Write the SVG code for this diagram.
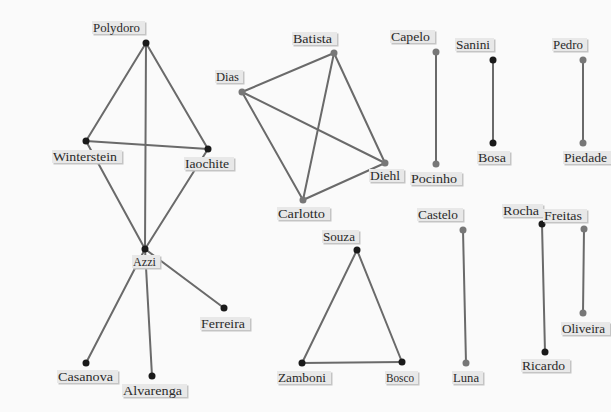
<svg xmlns="http://www.w3.org/2000/svg" width="611" height="412" viewBox="0 0 611 412">
  <style>
    .edge { stroke: #6a6a6a; stroke-width: 2; stroke-linecap: round; }
    .dk { fill: #1a1a1a; }
    .lt { fill: #777; }
    .sh { fill: #c4c4c4; }
    .bg { fill: #e8e8e8; }
    text { font-family: 'Liberation Serif', 'DejaVu Serif', 'Times New Roman', serif; font-size: 13px; fill: #2a2a2a; }
  </style>
  <rect width="611" height="412" fill="#fafafa"/>

  <g id="connectors">
    <!-- Polydoro cluster -->
    <line class="edge" x1="146" y1="43" x2="86" y2="141"/>
    <line class="edge" x1="146" y1="43" x2="208" y2="149"/>
    <line class="edge" x1="146" y1="43" x2="145" y2="249"/>
    <line class="edge" x1="86" y1="141" x2="208" y2="149"/>
    <line class="edge" x1="86" y1="141" x2="145" y2="249"/>
    <line class="edge" x1="208" y1="149" x2="145" y2="249"/>
    <line class="edge" x1="145" y1="249" x2="224" y2="308"/>
    <line class="edge" x1="145" y1="249" x2="86" y2="363"/>
    <line class="edge" x1="145" y1="249" x2="152" y2="376"/>
    <!-- Batista cluster -->
    <line class="edge" x1="334" y1="53" x2="242" y2="92"/>
    <line class="edge" x1="334" y1="53" x2="385" y2="163"/>
    <line class="edge" x1="334" y1="53" x2="303" y2="200"/>
    <line class="edge" x1="242" y1="92" x2="385" y2="163"/>
    <line class="edge" x1="242" y1="92" x2="303" y2="200"/>
    <line class="edge" x1="303" y1="200" x2="385" y2="163"/>
    <!-- Souza triangle -->
    <line class="edge" x1="357" y1="250" x2="302" y2="363"/>
    <line class="edge" x1="357" y1="250" x2="402" y2="362"/>
    <line class="edge" x1="302" y1="363" x2="402" y2="362"/>
    <!-- pairs -->
    <line class="edge" x1="436" y1="52" x2="436" y2="164"/>
    <line class="edge" x1="493" y1="60" x2="493" y2="143"/>
    <line class="edge" x1="583" y1="60" x2="583" y2="143"/>
    <line class="edge" x1="463" y1="230" x2="466" y2="363"/>
    <line class="edge" x1="542" y1="224" x2="545" y2="352"/>
    <line class="edge" x1="584" y1="229" x2="583" y2="313"/>
  </g>

  <g id="n-polydoro"><circle class="dk" cx="146" cy="43" r="3.5"/><rect class="sh" x="93.5" y="22.5" width="53" height="13"/><rect class="bg" x="92" y="21" width="53" height="13"/><text x="93" y="32" textLength="47" lengthAdjust="spacingAndGlyphs">Polydoro</text></g>
  <g id="n-winterstein"><circle class="dk" cx="86" cy="141" r="3.5"/><rect class="sh" x="53.5" y="151.5" width="70" height="13"/><rect class="bg" x="52" y="150" width="70" height="13"/><text x="53" y="161" textLength="64" lengthAdjust="spacingAndGlyphs">Winterstein</text></g>
  <g id="n-iaochite"><circle class="dk" cx="208" cy="149" r="3.5"/><rect class="sh" x="185.5" y="158.5" width="50" height="13"/><rect class="bg" x="184" y="157" width="50" height="13"/><text x="185" y="168" textLength="44" lengthAdjust="spacingAndGlyphs">Iaochite</text></g>
  <g id="n-azzi"><circle class="dk" cx="145" cy="249" r="3.5"/><rect class="sh" x="133.5" y="256.5" width="28" height="13"/><rect class="bg" x="132" y="255" width="28" height="13"/><text x="133" y="266" textLength="23" lengthAdjust="spacingAndGlyphs">Azzi</text></g>
  <g id="n-ferreira"><circle class="dk" cx="224" cy="308" r="3.5"/><rect class="sh" x="201.5" y="318.5" width="50" height="13"/><rect class="bg" x="200" y="317" width="50" height="13"/><text x="201" y="328" textLength="44" lengthAdjust="spacingAndGlyphs">Ferreira</text></g>
  <g id="n-casanova"><circle class="dk" cx="86" cy="363" r="3.5"/><rect class="sh" x="58.5" y="371.5" width="61" height="13"/><rect class="bg" x="57" y="370" width="61" height="13"/><text x="58" y="381" textLength="55" lengthAdjust="spacingAndGlyphs">Casanova</text></g>
  <g id="n-alvarenga"><circle class="dk" cx="152" cy="376" r="3.5"/><rect class="sh" x="123.5" y="385.5" width="65" height="13"/><rect class="bg" x="122" y="384" width="65" height="13"/><text x="123" y="395" textLength="59" lengthAdjust="spacingAndGlyphs">Alvarenga</text></g>

  <g id="n-batista"><circle class="lt" cx="334" cy="53" r="3.5"/><rect class="sh" x="293.5" y="33.5" width="45" height="13"/><rect class="bg" x="292" y="32" width="45" height="13"/><text x="293" y="43" textLength="39" lengthAdjust="spacingAndGlyphs">Batista</text></g>
  <g id="n-dias"><circle class="lt" cx="242" cy="92" r="3.5"/><rect class="sh" x="216.5" y="71.5" width="28" height="13"/><rect class="bg" x="215" y="70" width="28" height="13"/><text x="216" y="81" textLength="23" lengthAdjust="spacingAndGlyphs">Dias</text></g>
  <g id="n-diehl"><circle class="lt" cx="385" cy="163" r="3.5"/><rect class="sh" x="370.5" y="170.5" width="35" height="13"/><rect class="bg" x="369" y="169" width="35" height="13"/><text x="370" y="180" textLength="30" lengthAdjust="spacingAndGlyphs">Diehl</text></g>
  <g id="n-carlotto"><circle class="lt" cx="303" cy="200" r="3.5"/><rect class="sh" x="278.5" y="208.5" width="53" height="13"/><rect class="bg" x="277" y="207" width="53" height="13"/><text x="278" y="218" textLength="47" lengthAdjust="spacingAndGlyphs">Carlotto</text></g>

  <g id="n-capelo"><circle class="lt" cx="436" cy="52" r="3.5"/><rect class="sh" x="391.5" y="31.5" width="45" height="13"/><rect class="bg" x="390" y="30" width="45" height="13"/><text x="391" y="41" textLength="39" lengthAdjust="spacingAndGlyphs">Capelo</text></g>
  <g id="n-pocinho"><circle class="lt" cx="436" cy="164" r="3.5"/><rect class="sh" x="411.5" y="173.5" width="52" height="13"/><rect class="bg" x="410" y="172" width="52" height="13"/><text x="411" y="183" textLength="46" lengthAdjust="spacingAndGlyphs">Pocinho</text></g>
  <g id="n-sanini"><circle class="dk" cx="493" cy="60" r="3.5"/><rect class="sh" x="456.5" y="39.5" width="39" height="13"/><rect class="bg" x="455" y="38" width="39" height="13"/><text x="456" y="49" textLength="34" lengthAdjust="spacingAndGlyphs">Sanini</text></g>
  <g id="n-bosa"><circle class="dk" cx="493" cy="143" r="3.5"/><rect class="sh" x="478.5" y="152.5" width="33" height="13"/><rect class="bg" x="477" y="151" width="33" height="13"/><text x="478" y="162" textLength="28" lengthAdjust="spacingAndGlyphs">Bosa</text></g>
  <g id="n-pedro"><circle class="lt" cx="583" cy="60" r="3.5"/><rect class="sh" x="553.5" y="39.5" width="35" height="13"/><rect class="bg" x="552" y="38" width="35" height="13"/><text x="553" y="49" textLength="30" lengthAdjust="spacingAndGlyphs">Pedro</text></g>
  <g id="n-piedade"><circle class="lt" cx="583" cy="143" r="3.5"/><rect class="sh" x="564.5" y="152.5" width="48" height="13"/><rect class="bg" x="563" y="151" width="48" height="13"/><text x="564" y="162" textLength="43" lengthAdjust="spacingAndGlyphs">Piedade</text></g>

  <g id="n-castelo"><circle class="lt" cx="463" cy="230" r="3.5"/><rect class="sh" x="418.5" y="209.5" width="46" height="13"/><rect class="bg" x="417" y="208" width="46" height="13"/><text x="418" y="219" textLength="40" lengthAdjust="spacingAndGlyphs">Castelo</text></g>
  <g id="n-luna"><circle class="lt" cx="466" cy="363" r="3.5"/><rect class="sh" x="453.5" y="372.5" width="31" height="13"/><rect class="bg" x="452" y="371" width="31" height="13"/><text x="453" y="382" textLength="26" lengthAdjust="spacingAndGlyphs">Luna</text></g>

  <g id="n-souza"><circle class="dk" cx="357" cy="250" r="3.5"/><rect class="sh" x="323.5" y="231.5" width="37" height="13"/><rect class="bg" x="322" y="230" width="37" height="13"/><text x="323" y="241" textLength="32" lengthAdjust="spacingAndGlyphs">Souza</text></g>
  <g id="n-zamboni"><circle class="dk" cx="302" cy="363" r="3.5"/><rect class="sh" x="278.5" y="372.5" width="54" height="13"/><rect class="bg" x="277" y="371" width="54" height="13"/><text x="278" y="382" textLength="48" lengthAdjust="spacingAndGlyphs">Zamboni</text></g>
  <g id="n-bosco"><circle class="dk" cx="402" cy="362" r="3.5"/><rect class="sh" x="386.5" y="372.5" width="33" height="13"/><rect class="bg" x="385" y="371" width="33" height="13"/><text x="386" y="382" textLength="28" lengthAdjust="spacingAndGlyphs">Bosco</text></g>

  <g id="n-rocha"><circle class="dk" cx="542" cy="224" r="3.5"/><rect class="sh" x="503.5" y="205.5" width="41" height="13"/><rect class="bg" x="502" y="204" width="41" height="13"/><text x="503" y="215" textLength="36" lengthAdjust="spacingAndGlyphs">Rocha</text></g>
  <g id="n-ricardo"><circle class="dk" cx="545" cy="352" r="3.5"/><rect class="sh" x="522.5" y="360.5" width="49" height="13"/><rect class="bg" x="521" y="359" width="49" height="13"/><text x="522" y="370" textLength="43" lengthAdjust="spacingAndGlyphs">Ricardo</text></g>
  <g id="n-freitas"><circle class="lt" cx="584" cy="229" r="3.5"/><rect class="sh" x="544.5" y="210.5" width="44" height="13"/><rect class="bg" x="543" y="209" width="44" height="13"/><text x="544" y="220" textLength="38" lengthAdjust="spacingAndGlyphs">Freitas</text></g>
  <g id="n-oliveira"><circle class="lt" cx="583" cy="313" r="3.5"/><rect class="sh" x="562.5" y="323.5" width="49" height="13"/><rect class="bg" x="561" y="322" width="49" height="13"/><text x="562" y="333" textLength="43" lengthAdjust="spacingAndGlyphs">Oliveira</text></g>
</svg>
